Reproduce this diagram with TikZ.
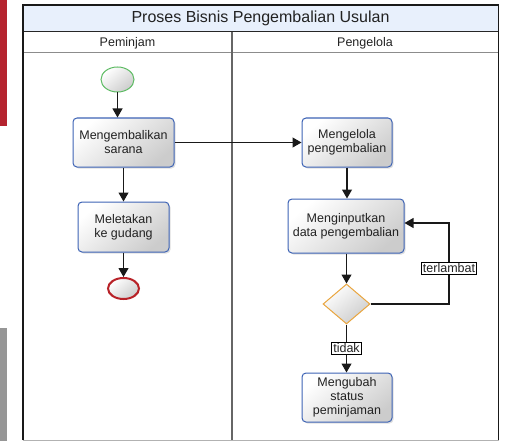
\documentclass[tikz,border=0pt]{standalone}
\usepackage{fontspec}
\setmainfont{Liberation Sans}
\usetikzlibrary{arrows.meta,shapes.geometric,shadows}
\definecolor{boxblue}{HTML}{3D63B5}
\definecolor{startgreen}{HTML}{5DBB63}
\definecolor{endred}{HTML}{B82228}
\definecolor{decorange}{HTML}{E9A53E}
\definecolor{titlefill}{HTML}{E8F0FC}
\definecolor{stripred}{HTML}{B5242F}
\definecolor{stripgray}{HTML}{969696}
\definecolor{txt}{HTML}{222222}
\tikzset{
  shadefill/.style={top color=white, bottom color=black!20, shading angle=40},
  task/.style={draw=boxblue, line width=1pt, rounded corners=4pt, shadefill,
    drop shadow={opacity=0.25, shadow xshift=1.5pt, shadow yshift=-1.5pt},
    align=center, inner sep=1pt, font=\fontsize{12.5}{14}\selectfont, text=txt},
  startev/.style={ellipse, draw=startgreen, line width=1pt, shadefill, minimum width=33pt, minimum height=25pt, inner sep=0pt},
  endev/.style={ellipse, draw=endred, line width=2pt, shadefill, minimum width=31pt, minimum height=21pt, inner sep=0pt},
  gate/.style={diamond, draw=decorange, line width=1pt, shadefill, minimum width=47pt, minimum height=40pt, inner sep=0pt, aspect=1.17},
  flow/.style={draw=black!90, line width=1.1pt, -{Triangle[length=9pt,width=10pt]}},
  lbl/.style={draw=black, line width=0.8pt, fill=white, inner sep=1.5pt, font=\fontsize{12.5}{14}\selectfont, text=txt},
  hdr/.style={font=\fontsize{12.5}{14}\selectfont, text=txt},
}
\begin{document}
\begin{tikzpicture}[x=1pt,y=-1pt]
\useasboundingbox (0,0) rectangle (508,441);
% side strips
\fill[stripred] (0,0) rectangle (7,126);
\fill[stripgray] (0,328) rectangle (7,441);
% pool
\fill[titlefill] (23,5) rectangle (498.5,32);
\draw[black!85, line width=1pt] (23,32) -- (498.5,32);
\draw[black!45, line width=1pt] (23,53) -- (498.5,53);
\draw[black!60, line width=1.5pt] (232,32) -- (232,440);
\draw[black!30, line width=1pt] (23,440) -- (498.5,440);
\draw[black!90, line width=1.2pt] (23,440) -- (23,5) -- (498.5,5) -- (498.5,440);
\node[font=\fontsize{16}{18}\selectfont, text=txt] (title) at (260.5,18.5) {Proses Bisnis Pengembalian Usulan};
\node[hdr] (lane1) at (127.5,43) {Peminjam};
\node[hdr] (lane2) at (365,43) {Pengelola};
% nodes
\node[startev] (start) at (117.5,79.5) {};
\node[task, minimum width=101pt, minimum height=49pt] (A) at (123.5,142.5) {Mengembalikan\\sarana};
\node[task, minimum width=91pt, minimum height=50pt] (B) at (123.5,227) {Meletakan\\ke gudang};
\node[endev] (end) at (123.5,288.5) {};
\node[task, minimum width=90pt, minimum height=49pt] (C) at (347,142.5) {Mengelola\\pengembalian};
\node[task, minimum width=116pt, minimum height=54pt] (D) at (346,226) {Menginputkan\\data pengembalian};
\node[gate] (E) at (346.5,304) {};
\node[task, minimum width=90pt, minimum height=49pt] (F) at (347,397.5) {Mengubah\\status\\peminjaman};
\coordinate (k) at (449,223);
% flows
\draw[flow] (start) -- (start |- A.north);
\draw[flow] (A) -- (B);
\draw[flow] (B) -- (end);
\draw[flow] (A) -- (C);
\draw[flow] (C) -- (C |- D.north);
\draw[flow] (E |- D.south) -- (E);
\draw[flow] (E) -- node[lbl] (tidak) {tidak} (E |- F.north);
\draw[flow] (E.east) -| node[lbl, pos=0.72] (terl) {terlambat} (k) -- (D.east |- k);
\end{tikzpicture}
\end{document}
